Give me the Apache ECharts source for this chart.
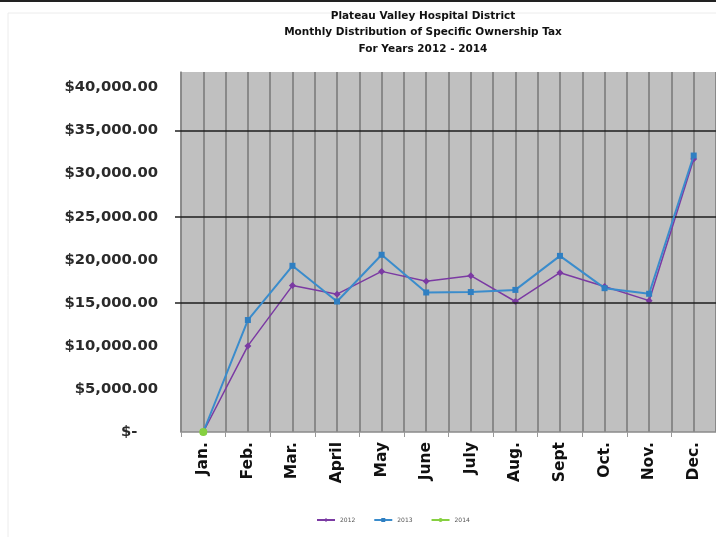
<!DOCTYPE html>
<html>
<head>
<meta charset="utf-8">
<script src="https://cdn.jsdelivr.net/npm/echarts@6/dist/echarts.min.js"></script>
<style>
  html, body { margin: 0; padding: 0; background: #fff; }
  #chart { width: 716px; height: 537px; }
</style>
</head>
<body>
<div id="chart"></div>
<script>
const months = ["Jan.", "Feb.", "Mar.", "April", "May", "June", "July", "Aug.", "Sept", "Oct.", "Nov.", "Dec."];
const sales2012 = [0, 10000, 17000, 16000, 18650, 17500, 18150, 15150, 18500, 16900, 15250, 31700];
const sales2013 = [0, 13000, 19300, 15150, 20580, 16200, 16250, 16500, 20450, 16700, 16050, 32100];
const sales2014 = [0, null, null, null, null, null, null, null, null, null, null, null];
const yTicks = [0, 5000, 10000, 15000, 20000, 25000, 30000, 35000, 40000];
const gridValues = [15000, 25000, 35000];
const titleLines = ["Plateau Valley Hospital District", "Monthly Distribution of Specific Ownership Tax", "For Years 2012 - 2014"];

const chart = echarts.init(document.getElementById("chart"));

const money = (v) => v === 0 ? "$-    " :
  "$" + v.toLocaleString("en-US", { minimumFractionDigits: 2, maximumFractionDigits: 2 });

chart.setOption({
  animation: false,
  backgroundColor: "#fff",
  graphic: [
    { type: "rect", shape: { x: 0, y: 0, width: 716, height: 2 }, style: { fill: "#222" } },
    { type: "rect", shape: { x: 8, y: 13, width: 720, height: 540 }, style: { fill: "none", stroke: "#ececec", lineWidth: 1 } }
  ],
  title: {
    text: titleLines.join("\n"),
    left: 418,
    textAlign: "center",
    top: 3,
    textStyle: { fontFamily: "DejaVu Sans", fontSize: 10.5, fontWeight: "bold", color: "#111", lineHeight: 16.5 }
  },
  legend: {
    bottom: 9,
    left: 311,
    itemWidth: 18,
    itemHeight: 5,
    itemGap: 18,
    textStyle: { fontSize: 6, color: "#555", fontFamily: "DejaVu Sans" },
    data: ["2012", "2013", "2014"]
  },
  grid: { left: 181, top: 72, right: -4, bottom: 105 },
  xAxis: [
    {
      type: "category",
      data: months,
      boundaryGap: true,
      axisLine: { lineStyle: { color: "#8a8a8a", width: 1.5 } },
      axisTick: { show: true, length: 5, lineStyle: { color: "#999" } },
      axisLabel: {
        rotate: 90,
        margin: 10,
        fontFamily: "DejaVu Sans",
        fontWeight: "bold",
        fontSize: 15.5,
        color: "#111"
      },
      splitLine: { show: false },
      z: 3
    },
    {
      type: "value",
      min: 0,
      max: months.length * 2,
      interval: 1,
      show: true,
      position: "top",
      axisLine: { show: false },
      axisTick: { show: false },
      axisLabel: { show: false },
      splitLine: { show: true, lineStyle: { color: "#777", width: 1.5 } }
    }
  ],
  yAxis: {
    type: "value",
    min: 0,
    max: 41800,
    interval: 5000,
    axisLine: { show: true, lineStyle: { color: "#8a8a8a", width: 1.5 } },
    axisTick: { show: true, customValues: gridValues, length: 6, lineStyle: { color: "#222", width: 1.5 } },
    axisLabel: {
      customValues: yTicks,
      margin: 23,
      formatter: money,
      fontFamily: "DejaVu Sans",
      fontWeight: "bold",
      fontSize: 14.8,
      color: "#2a2a2a"
    },
    splitLine: { show: false },
    splitArea: { show: false }
  },
  series: [
    {
      name: "2012",
      type: "line",
      data: sales2012,
      color: "#7b3aa3",
      symbol: "diamond",
      symbolSize: 7,
      lineStyle: { width: 1.5, color: "#7b3aa3" },
      itemStyle: { color: "#7b3aa3" },
      markLine: {
        silent: true,
        symbol: "none",
        label: { show: false },
        lineStyle: { color: "#1e1e1e", width: 1.5, type: "solid" },
        data: gridValues.map(v => ({ yAxis: v }))
      },
      z: 4
    },
    {
      name: "2013",
      type: "line",
      data: sales2013,
      color: "#3a8ccc",
      symbol: "rect",
      symbolSize: 6,
      lineStyle: { width: 2, color: "#3a8ccc" },
      itemStyle: { color: "#2f7fc2" },
      z: 5
    },
    {
      name: "2014",
      type: "line",
      data: sales2014,
      color: "#86d040",
      symbol: "circle",
      symbolSize: 8,
      lineStyle: { width: 2, color: "#86d040" },
      itemStyle: { color: "#86d040" },
      z: 6
    }
  ]
});

chart.getZr().add(new echarts.graphic.Rect({
  shape: { x: 181, y: 72, width: 540, height: 360 },
  style: { fill: "#c0c0c0" },
  z: -10,
  zlevel: 0,
  silent: true
}));
</script>
</body>
</html>
